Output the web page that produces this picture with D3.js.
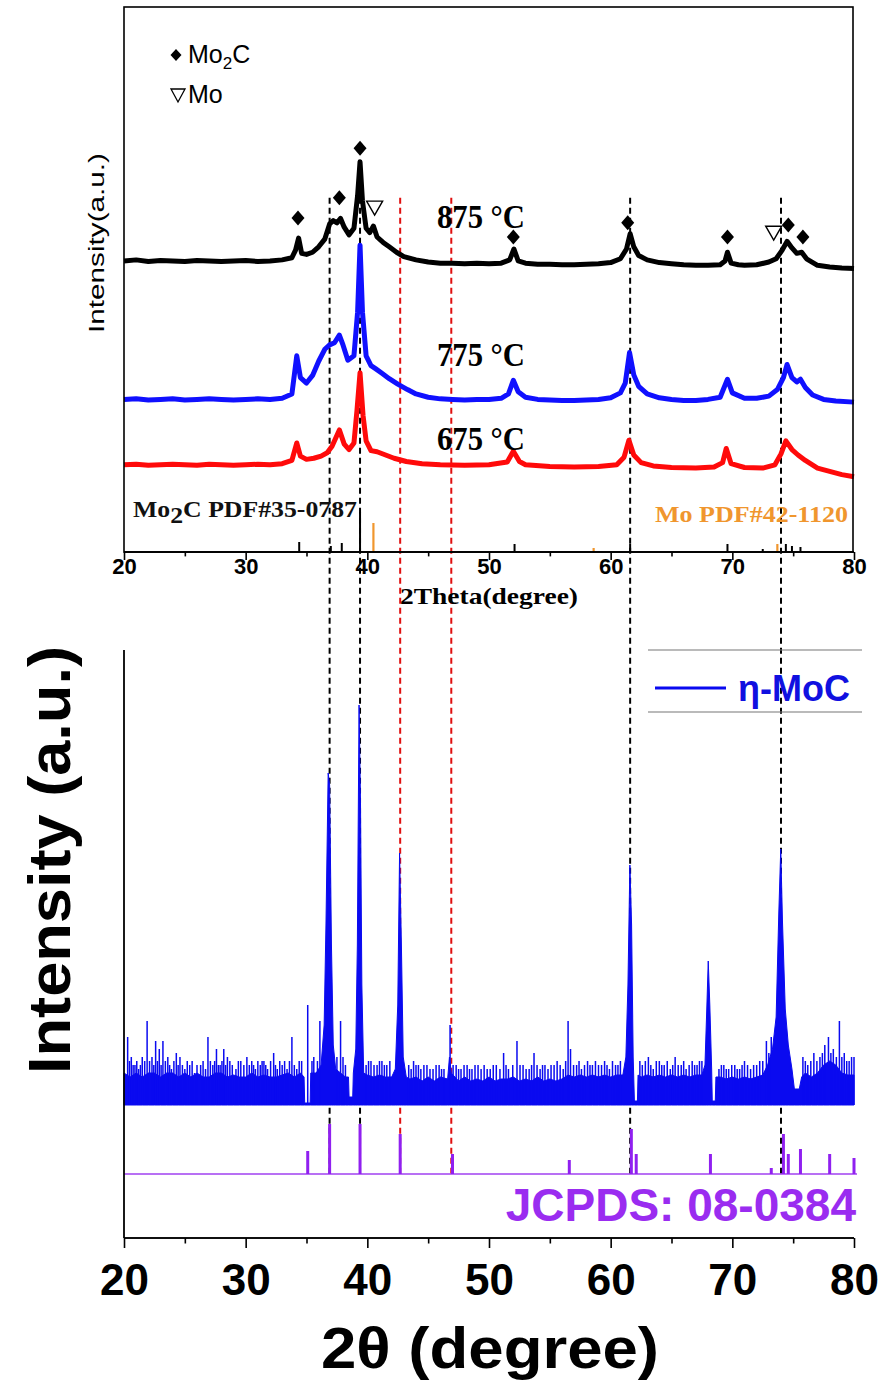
<!DOCTYPE html>
<html>
<head>
<meta charset="utf-8">
<script src="https://cdn.jsdelivr.net/npm/d3@7"></script>
<style>
  body { margin: 0; background: #fff; }
  svg { display: block; }
</style>
</head>
<body>
<div id="chart"></div>
<script>
// ---- data ----
const xTicks = [20, 30, 40, 50, 60, 70, 80];
const xMinorTicks = [25, 35, 45, 55, 65, 75];

// top panel: XRD traces, [2theta, a.u. above the trace's own baseline]
const tempLabels = ["875 °C", "775 °C", "675 °C"];
const traceOffsets = [534, 280, 160];

const trace875 = [[20,0],[21,2],[22,-1],[23,1],[24,0],[25,-1],[26,1],[27,0],[28,-1],[29,0],[30,1],[31,-1],[32,0],[33,2],
  [33.8,6],[34.1,20],[34.35,42],[34.6,14],[35.0,12],[35.5,16],[36.0,26],[36.5,40],[36.9,68],[37.2,74],[37.5,70],[37.8,78],
  [38.1,62],[38.5,48],[38.9,60],[39.2,120],[39.4,182],[39.6,110],[39.9,60],[40.2,52],[40.5,64],[40.8,44],[41.3,34],[41.8,26],
  [42.4,16],[43.0,8],[44,2],[45,-2],[46,-4],[47,-4],[48,-5],[49,-4],[50,-5],[51,-4],[51.7,2],[52.05,22],[52.4,0],[53,-4],
  [54,-6],[55,-6],[56,-7],[57,-7],[58,-6],[59,-5],[60,-3],[60.8,4],[61.3,22],[61.6,50],[61.9,26],[62.3,10],[63,2],[64,-3],
  [65,-5],[66,-7],[67,-8],[68,-8],[69,-7],[69.4,0],[69.6,16],[69.9,-4],[70.5,-7],[71,-8],[72,-7],[73,-2],[73.6,4],[74.1,20],
  [74.5,36],[74.9,24],[75.3,14],[75.7,16],[76.1,4],[77,-8],[78,-11],[79,-13],[80,-14]];

const trace775 = [[20,0],[21,1],[22,-1],[23,0],[24,1],[25,-1],[26,0],[27,1],[28,0],[29,-1],[30,0],[31,1],[32,0],[33,2],
  [33.8,10],[34.2,80],[34.5,40],[35.0,30],[35.5,44],[36.0,70],[36.5,92],[36.9,100],[37.3,104],[37.7,118],[38.0,100],[38.4,72],
  [38.9,80],[39.2,160],[39.4,283],[39.6,160],[39.9,80],[40.3,62],[40.7,56],[41.2,48],[41.8,38],[42.5,28],[43.3,18],[44,10],
  [45,4],[46,1],[47,0],[48,-1],[49,0],[50,0],[51,2],[51.6,10],[52.0,35],[52.4,14],[53,4],[54,0],[55,-1],[56,-2],[57,-2],
  [58,-1],[59,0],[60,3],[60.8,12],[61.2,30],[61.55,86],[61.9,45],[62.3,24],[63,10],[64,3],[65,0],[66,-2],[67,-2],[68,0],
  [69,4],[69.6,37],[70,12],[71,2],[72,2],[73,6],[73.7,18],[74.2,40],[74.5,64],[74.9,40],[75.3,32],[75.6,37],[76.0,22],
  [76.6,8],[77.5,0],[78.5,-3],[80,-5]];

const trace675 = [[20,0],[21,1],[22,-1],[23,0],[24,1],[25,0],[26,-1],[27,1],[28,0],[29,-1],[30,0],[31,1],[32,0],[33,2],
  [33.8,8],[34.2,40],[34.5,16],[35,10],[35.6,12],[36.2,16],[36.7,22],[37.1,34],[37.7,64],[38.1,38],[38.5,28],[38.9,40],
  [39.15,100],[39.4,169],[39.65,90],[39.9,44],[40.3,26],[40.8,24],[41.5,18],[42.2,12],[43.2,6],[44.5,2],[46,0],[48,-1],
  [50,0],[51.5,5],[52.0,25],[52.5,6],[53,0],[55,-3],[57,-4],[59,-3],[60.5,0],[61.1,14],[61.5,45],[61.9,18],[62.5,4],
  [63.5,-2],[65,-5],[67,-6],[68.5,-4],[69.2,4],[69.5,30],[69.9,2],[71,-5],[72.5,-6],[73.5,0],[74.0,20],[74.4,44],[74.9,28],
  [75.4,18],[76,8],[77,-6],[78,-12],[79,-18],[80,-22]];

// peak markers, [2theta, a.u.]
const mo2cMarks = [[34.3,613],[37.7,650],[39.4,741],[52.0,578],[61.4,604],[69.6,578],[74.6,600],[75.8,578]];
const moMarks = [[40.6,631],[73.4,585]];

// reference sticks under the top traces, [2theta, height]
const mo2cRef = [[34.4,10],[37.0,6],[37.9,9],[39.4,40],[52.1,8],[61.6,8],[69.6,8],[72.5,3],[74.4,8],[74.9,6],[75.6,5]];
const moRef = [[40.5,29],[58.6,4],[73.7,8]];

// bottom panel: eta-MoC pattern, [2theta, a.u.]
const mocProfile = [[20,8],[20.5,7],[21,8],[21.5,7],[22,8],[22.5,8],[23,7],[23.5,8],[24,8],[24.5,7],[25,8],[25.5,7],[26,8],
  [26.5,7],[27,7],[27.5,8],[28,8],[28.5,7],[29,7.5],[29.5,7],[30,7],[30.5,8],[31,7],[31.5,7.5],[32,7],[32.5,7],[33,7.5],
  [33.5,8],[34,7],[34.5,8],[34.8,7],[34.85,0.5],[35.3,0.5],[35.35,8],[35.8,8],[36.2,10],[36.45,20],[36.6,45],[36.78,83],
  [36.9,80],[37.05,40],[37.2,15],[37.4,9],[37.8,8],[38.2,7],[38.45,7],[38.5,2],[38.8,2],[38.85,8],[39.05,14],[39.18,40],
  [39.32,100],[39.44,75],[39.55,30],[39.7,8],[40,7.5],[40.5,7],[41,7.5],[41.5,7],[42,7],[42.3,9],[42.5,25],[42.65,63],
  [42.8,40],[42.95,12],[43.2,7],[43.5,6.5],[44,7],[44.5,6],[45,7],[45.5,6],[46,7],[46.6,6.5],[46.75,12],[46.9,8],[47.2,7],
  [47.5,6],[48,7],[48.5,6],[49,6.5],[49.5,6],[50,7],[50.5,6],[51,6.5],[51.5,6.5],[52,7],[52.5,6],[53,6.5],[53.5,6],[54,7],
  [54.5,6],[55,6.5],[55.5,6],[56,6.5],[56.5,7.5],[57,7],[57.5,7.5],[58,7],[58.5,7.5],[59,7],[59.5,7.5],[60,7],[60.5,7.5],
  [61.0,7.5],[61.25,12],[61.42,30],[61.58,60],[61.72,45],[61.85,12],[61.95,1],[62.2,1],[62.25,7.5],[62.5,7],[63,7.5],
  [63.5,7],[64,7.5],[64.5,7],[65,7.5],[65.5,7],[66,7.5],[66.5,7],[67,7.5],[67.5,7.5],[67.75,10],[67.9,24],[68.02,36],
  [68.15,25],[68.3,9],[68.35,1],[68.6,1],[68.65,7],[69,7],[69.5,6.5],[70,7],[70.5,6.5],[71,7],[71.5,6.5],[72,7],[72.5,7.5],
  [72.9,10],[73.3,14],[73.6,22],[73.82,48],[73.98,64],[74.12,46],[74.35,24],[74.6,15],[74.9,9],[75.1,4],[75.5,4],[75.7,7],
  [76,8],[76.5,7],[77,8],[77.5,10],[78,11],[78.5,10],[79,8],[79.5,7.5],[80,7.5]];

const mocSpikes = [[20.3,17],[20.45,11],[20.6,12],[20.75,10],[20.9,10],[21.05,11],[21.2,9],[21.35,10],[21.5,12],[21.7,11],
  [21.9,21],[22.1,11],[22.3,12],[22.45,10],[22.6,16],[22.75,11],[22.9,14],[23.05,10],[23.2,16],[23.4,11],[23.6,12],[23.75,10],
  [23.9,9],[24.1,11],[24.3,13],[24.45,10],[24.6,12],[24.8,10],[25.0,9],[25.2,11],[25.4,10],[25.6,11],[25.8,8],[26.0,10],
  [26.3,10],[26.5,11],[26.7,9],[26.9,17],[27.1,11],[27.3,10],[27.45,11],[27.6,14],[27.75,10],[27.9,10],[28.05,11],[28.2,14],
  [28.35,10],[28.5,12],[28.7,11],[28.9,10],[29.2,9],[29.4,11],[29.6,11],[29.85,10],[30.1,12],[30.3,10],[30.5,11],[30.65,10],
  [30.8,9],[31.0,11],[31.2,10],[31.35,11],[31.5,11],[31.65,10],[31.8,9],[32.05,11],[32.3,13],[32.45,10],[32.6,9],[32.8,11],
  [33.0,10],[33.2,11],[33.4,9],[33.6,11],[33.8,17],[34.0,10],[34.2,9],[34.4,11],[34.6,11],[35.1,25],[35.45,11],[35.6,12],
  [35.9,11],[36.1,21],[37.5,12],[37.8,21],[38.0,12],[38.2,10],[39.9,10],[40.1,11],[40.3,11],[40.55,10],[40.8,10],[41.0,11],
  [41.2,11],[41.4,10],[41.6,10],[41.85,11],[43.4,10],[43.6,9],[43.8,11],[44.0,10],[44.2,10],[44.4,9],[44.65,10],[44.9,10],
  [45.15,9],[45.4,9],[45.65,10],[45.9,10],[46.1,9],[46.3,9],[46.8,20],[47.05,10],[47.3,10],[47.5,9],[47.7,9],[47.95,10],
  [48.2,10],[48.4,9],[48.6,9],[48.85,10],[49.1,10],[49.35,9],[49.6,10],[49.85,9],[50.1,9],[50.35,10],[50.6,10],[50.9,9],
  [51.2,13],[51.4,10],[51.6,9],[51.95,10],[52.3,16],[52.55,10],[52.8,10],[53.05,9],[53.3,9],[53.5,10],[53.7,13],[53.95,10],
  [54.2,9],[54.4,10],[54.6,10],[54.85,9],[55.1,10],[55.35,10],[55.6,11],[55.85,10],[56.1,9],[56.3,11],[56.5,21],[56.7,14],
  [56.95,10],[57.2,10],[57.4,11],[57.6,9],[57.85,10],[58.1,11],[58.3,10],[58.5,10],[58.75,11],[59.0,10],[59.25,10],[59.5,11],
  [59.7,10],[59.9,9],[60.15,11],[60.4,10],[60.6,10],[60.8,11],[62.4,11],[62.6,10],[62.85,11],[63.1,12],[63.3,10],[63.5,9],
  [63.75,11],[64.0,11],[64.2,10],[64.4,10],[64.65,11],[64.9,9],[65.1,10],[65.3,12],[65.55,10],[65.8,10],[66.0,11],[66.2,9],
  [66.45,10],[66.7,11],[66.9,10],[67.1,10],[67.3,11],[67.5,11],[68.9,9],[69.1,10],[69.3,10],[69.5,9],[69.7,9],[69.95,10],
  [70.2,10],[70.4,9],[70.6,9],[70.8,10],[71.0,11],[71.25,10],[71.5,9],[71.75,10],[72.0,10],[72.25,11],[72.5,11],[72.8,16],
  [73.0,13],[73.2,17],[75.8,12],[76.0,11],[76.2,10],[76.45,11],[76.7,13],[76.95,11],[77.2,12],[77.4,13],[77.6,15],[77.9,17],
  [78.1,13],[78.3,14],[78.55,12],[78.8,21],[79.0,12],[79.2,13],[79.4,11],[79.6,11],[79.8,12],[80.0,12]];

// JCPDS 08-0384 sticks, [2theta, relative height]
const jcpdsRef = [[35.1,23],[36.9,50],[39.4,50],[42.7,40],[47.0,20],[56.6,14],[61.7,45],[62.1,20],[68.2,20],[73.2,6],
  [74.2,40],[74.6,20],[75.6,25],[78.0,20],[80.0,16]];

// guide lines
const blackGuides = [36.9, 39.4, 61.6, 74.0];
const redGuides = [42.7, 46.9];

// ---- drawing ----
const W = 889, H = 1384;
const sans = "'Liberation Sans', Arial, sans-serif";
const serif = "'Liberation Serif', 'Times New Roman', serif";

const svg = d3.select("#chart").append("svg").attr("width", W).attr("height", H);

const x = d3.scaleLinear().domain([20, 80]).range([124, 854]);
const yTop = d3.scaleLinear().domain([0, 1000]).range([552, 7]);
const yRef = d3.scaleLinear().domain([0, 100]).range([552, 452]);
const yMoc = d3.scaleLinear().domain([0, 100]).range([1105, 705]);
const yJc = d3.scaleLinear().domain([0, 100]).range([1174, 1074]);

// guide dashed lines
const guides = svg.append("g");
function guide(list, color) {
  guides.selectAll(null).data(list).enter().append("line")
    .attr("x1", d => x(d)).attr("x2", d => x(d))
    .attr("y1", yTop(650)).attr("y2", yJc(0))
    .attr("stroke", color).attr("stroke-width", 2).attr("stroke-dasharray", "6,4");
}

// top traces
const traces = [trace875, trace775, trace675];
const traceColors = ["#000", "#1010ff", "#ff0a0a"];
traces.forEach((tr, i) => {
  const line = d3.line().x(d => x(d[0])).y(d => yTop(d[1] + traceOffsets[i]));
  svg.append("path").datum(tr).attr("d", line)
    .attr("fill", "none").attr("stroke", traceColors[i]).attr("stroke-width", 5)
    .attr("stroke-linejoin", "round");
});

// temperature labels
const tempY = [594, 341, 187];
tempLabels.forEach((t, i) => {
  svg.append("text").attr("x", 437).attr("y", yTop(tempY[i]))
    .attr("font-family", serif).attr("font-weight", "bold").attr("font-size", 33)
    .attr("textLength", 88).attr("lengthAdjust", "spacingAndGlyphs").text(t);
});

// markers
const diamond = "M0,-7.5L6.5,0L0,7.5L-6.5,0Z";
const tri = "M-8,-7L8,-7L0,7Z";
svg.selectAll(null).data(mo2cMarks).enter().append("path")
  .attr("d", diamond).attr("transform", d => `translate(${x(d[0])},${yTop(d[1])})`).attr("fill", "#000");
svg.selectAll(null).data(moMarks).enter().append("path")
  .attr("d", tri).attr("transform", d => `translate(${x(d[0])},${yTop(d[1])})`)
  .attr("fill", "#fff").attr("stroke", "#000").attr("stroke-width", 1.4);

// reference sticks top
svg.selectAll(null).data(mo2cRef).enter().append("line")
  .attr("x1", d => x(d[0])).attr("x2", d => x(d[0])).attr("y1", yRef(0)).attr("y2", d => yRef(d[1]))
  .attr("stroke", "#000").attr("stroke-width", 2);
svg.selectAll(null).data(moRef).enter().append("line")
  .attr("x1", d => x(d[0])).attr("x2", d => x(d[0])).attr("y1", yRef(0)).attr("y2", d => yRef(d[1]))
  .attr("stroke", "#f0962e").attr("stroke-width", 2.2);

const lab1 = svg.append("text").attr("x", 133).attr("y", 517)
  .attr("font-family", serif).attr("font-weight", "bold").attr("font-size", 24).attr("fill", "#111")
  .attr("textLength", 224).attr("lengthAdjust", "spacingAndGlyphs");
lab1.append("tspan").text("Mo");
lab1.append("tspan").attr("dy", 6).text("2");
lab1.append("tspan").attr("dy", -6).text("C PDF#35-0787");
svg.append("text").attr("x", 848).attr("y", 522).attr("text-anchor", "end")
  .attr("font-family", serif).attr("font-weight", "bold").attr("font-size", 24).attr("fill", "#f0962e")
  .attr("textLength", 193).attr("lengthAdjust", "spacingAndGlyphs")
  .text("Mo PDF#42-1120");

// legend top
svg.append("path").attr("d", "M0,-6L5.5,0L0,6L-5.5,0Z").attr("transform", "translate(176,55)");
const lg1 = svg.append("text").attr("x", 188).attr("y", 63).attr("font-family", sans).attr("font-size", 25);
lg1.append("tspan").text("Mo");
lg1.append("tspan").attr("dy", 6).attr("font-size", 17).text("2");
lg1.append("tspan").attr("dy", -6).text("C");
svg.append("path").attr("d", "M-7,-6L7,-6L0,7Z").attr("transform", "translate(178,95)")
  .attr("fill", "#fff").attr("stroke", "#000").attr("stroke-width", 1.3);
svg.append("text").attr("x", 188).attr("y", 103).attr("font-family", sans).attr("font-size", 25).text("Mo");

// top frame
svg.append("rect").attr("x", 124).attr("y", 7).attr("width", 729).attr("height", 545)
  .attr("fill", "none").attr("stroke", "#000").attr("stroke-width", 1.6);

// bottom pattern
const area = d3.area().x(d => x(d[0])).y0(yMoc(0)).y1(d => yMoc(d[1]));
svg.append("path").datum(mocProfile).attr("d", area).attr("fill", "#0a0af0").attr("stroke", "#0a0af0").attr("stroke-width", 1);
svg.selectAll(null).data(mocSpikes).enter().append("line")
  .attr("x1", d => x(d[0])).attr("x2", d => x(d[0])).attr("y1", yMoc(0)).attr("y2", d => yMoc(d[1]))
  .attr("stroke", "#0a0af0").attr("stroke-width", 1.5);

// JCPDS sticks
svg.append("line").attr("x1", x(20)).attr("x2", x(80) + 3).attr("y1", yJc(0)).attr("y2", yJc(0))
  .attr("stroke", "#a040f0").attr("stroke-width", 1.6);
svg.selectAll(null).data(jcpdsRef).enter().append("line")
  .attr("x1", d => x(d[0])).attr("x2", d => x(d[0])).attr("y1", yJc(0)).attr("y2", d => yJc(d[1]))
  .attr("stroke", "#9020f0").attr("stroke-width", 3);

guide(blackGuides, "#000");
guide(redGuides, "#e01010");

// legend bottom
svg.append("line").attr("x1", 648).attr("x2", 862).attr("y1", 650).attr("y2", 650).attr("stroke", "#777").attr("stroke-width", 1.2);
svg.append("line").attr("x1", 648).attr("x2", 862).attr("y1", 712).attr("y2", 712).attr("stroke", "#777").attr("stroke-width", 1.2);
svg.append("line").attr("x1", 655).attr("x2", 726).attr("y1", 688).attr("y2", 688).attr("stroke", "#0a0af0").attr("stroke-width", 3);
svg.append("text").attr("x", 738).attr("y", 701).attr("font-family", sans).attr("font-weight", "bold")
  .attr("font-size", 36).attr("fill", "#1010e0").text("η-MoC");

svg.append("text").attr("x", 856).attr("y", 1221).attr("text-anchor", "end")
  .attr("font-family", sans).attr("font-weight", "bold").attr("font-size", 46).attr("fill", "#9a2cf0")
  .text("JCPDS: 08-0384");

// axes
function xAxis(yPos, major, fontSize, labelDy) {
  const g = svg.append("g").attr("transform", `translate(0,${yPos})`);
  g.call(d3.axisBottom(x).tickValues(xTicks).tickSize(major).tickSizeOuter(0).tickPadding(4));
  g.append("g").call(d3.axisBottom(x).tickValues(xMinorTicks).tickSize(major * 0.55).tickFormat(""));
  g.selectAll("path, line").attr("stroke", "#000").attr("stroke-width", 1.6);
  g.selectAll("text").attr("font-family", sans).attr("font-weight", "bold").attr("font-size", fontSize)
    .attr("fill", "#000").attr("dy", labelDy);
  g.selectAll(".domain").attr("d", `M${x(20)},0H${x(80)}`);
  return g;
}
xAxis(552, 8, 22, "0.47em");
xAxis(1238, 10, 44, "0.98em");

// bottom y axis line
svg.append("line").attr("x1", 124).attr("x2", 124).attr("y1", 650).attr("y2", 1238)
  .attr("stroke", "#000").attr("stroke-width", 1.8);

// axis titles
svg.append("text").attr("transform", "translate(104,243) rotate(-90)").attr("text-anchor", "middle")
  .attr("font-family", sans).attr("font-size", 22).attr("textLength", 180).attr("lengthAdjust", "spacingAndGlyphs")
  .text("Intensity(a.u.)");
svg.append("text").attr("x", 489).attr("y", 604).attr("text-anchor", "middle")
  .attr("font-family", serif).attr("font-weight", "bold").attr("font-size", 23)
  .attr("textLength", 178).attr("lengthAdjust", "spacingAndGlyphs")
  .text("2Theta(degree)");
svg.append("text").attr("transform", "translate(70,860) rotate(-90)").attr("text-anchor", "middle")
  .attr("font-family", sans).attr("font-weight", "bold").attr("font-size", 60)
  .attr("textLength", 428).attr("lengthAdjust", "spacingAndGlyphs").text("Intensity (a.u.)");
svg.append("text").attr("x", 490).attr("y", 1368).attr("text-anchor", "middle")
  .attr("font-family", sans).attr("font-weight", "bold").attr("font-size", 58)
  .attr("textLength", 338).attr("lengthAdjust", "spacingAndGlyphs").text("2θ (degree)");
</script>
</body>
</html>
